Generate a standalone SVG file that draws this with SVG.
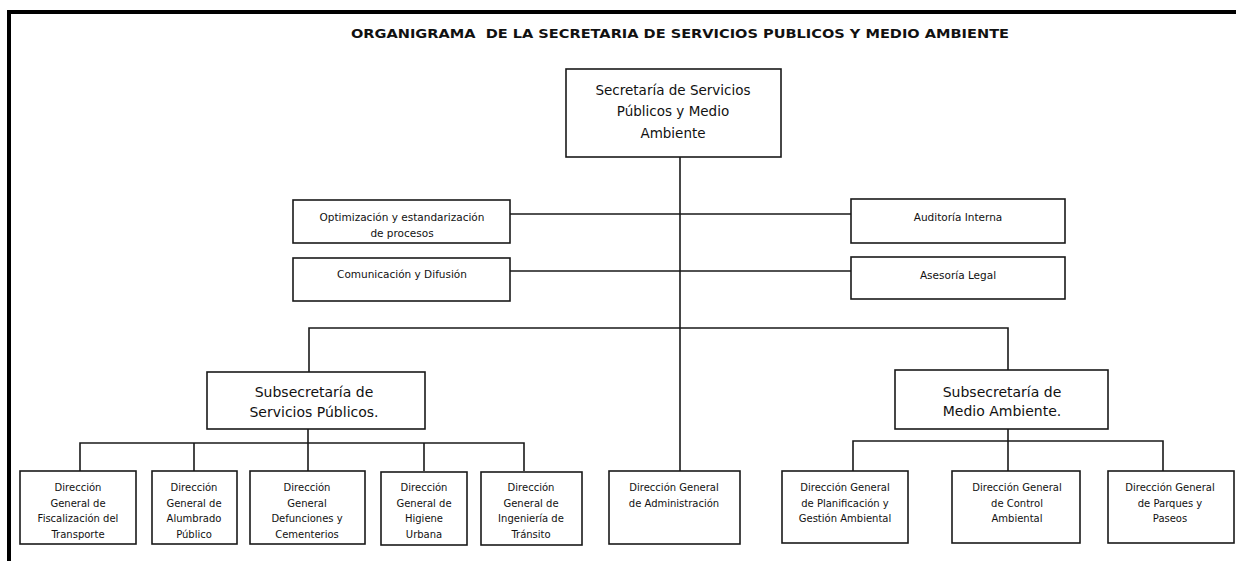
<svg xmlns="http://www.w3.org/2000/svg" width="1236" height="561" viewBox="0 0 1236 561">
<style>
.box{fill:#fff;stroke:#1a1a1a;stroke-width:1.6}
.ln{fill:none;stroke:#1a1a1a;stroke-width:1.6}
text{font-family:"DejaVu Sans","Liberation Sans",sans-serif;fill:#111;text-anchor:middle}
.t{font-size:10px}
.s{font-size:10.5px}
.big{font-size:13.5px}
.sub{font-size:14px}
.title{font-size:13px;font-weight:bold;white-space:pre}
</style>
<rect width="1236" height="561" fill="#fff"/>
<path d="M9 561V12H1236" fill="none" stroke="#000" stroke-width="4"/>
<text class="title" x="680" y="38" textLength="658" lengthAdjust="spacingAndGlyphs" xml:space="preserve">ORGANIGRAMA  DE LA SECRETARIA DE SERVICIOS PUBLICOS Y MEDIO AMBIENTE</text>
<g id="connectors">
<path class="ln" d="M680 157V471"/>
<path class="ln" d="M510 214H851M510 271H851"/>
<path class="ln" d="M309 372V328H1008V371"/>
<path class="ln" d="M308 429V443M80 471V443H524V471M194 443V471M424 443V471M308 443V471"/>
<path class="ln" d="M1008 429V441M853 471V441H1163V471M1008 441V471"/>
</g>
<g id="secretaria">
<rect class="box" x="566" y="69" width="215" height="88"/>
<text class="big" x="673" y="95">Secretaría de Servicios</text>
<text class="big" x="673" y="116">Públicos y Medio</text>
<text class="big" x="673" y="138">Ambiente</text>
</g>
<g id="optimizacion">
<rect class="box" x="293" y="200" width="217" height="43"/>
<text class="s" x="402" y="221">Optimización y estandarización</text>
<text class="s" x="402" y="237">de procesos</text>
</g>
<g id="comunicacion">
<rect class="box" x="293" y="258" width="217" height="43"/>
<text class="s" x="402" y="278">Comunicación y Difusión</text>
</g>
<g id="auditoria">
<rect class="box" x="851" y="199" width="214" height="44"/>
<text class="s" x="958" y="221">Auditoría Interna</text>
</g>
<g id="asesoria">
<rect class="box" x="851" y="257" width="214" height="42"/>
<text class="s" x="958" y="279">Asesoría Legal</text>
</g>
<g id="subsec-sp">
<rect class="box" x="207" y="372" width="218" height="57"/>
<text class="sub" x="314" y="397">Subsecretaría de</text>
<text class="sub" x="314" y="417">Servicios Públicos.</text>
</g>
<g id="subsec-ma">
<rect class="box" x="895" y="370" width="213" height="59"/>
<text class="sub" x="1002" y="397">Subsecretaría de</text>
<text class="sub" x="1002" y="416">Medio Ambiente.</text>
</g>
<g id="dg-fiscalizacion">
<rect class="box" x="20" y="471" width="116" height="73"/>
<text class="t" x="78" y="491">Dirección</text>
<text class="t" x="78" y="507">General de</text>
<text class="t" x="78" y="522">Fiscalización del</text>
<text class="t" x="78" y="538">Transporte</text>
</g>
<g id="dg-alumbrado">
<rect class="box" x="152" y="471" width="85" height="73"/>
<text class="t" x="194" y="491">Dirección</text>
<text class="t" x="194" y="507">General de</text>
<text class="t" x="194" y="522">Alumbrado</text>
<text class="t" x="194" y="538">Público</text>
</g>
<g id="dg-defunciones">
<rect class="box" x="250" y="471" width="115" height="73"/>
<text class="t" x="307" y="491">Dirección</text>
<text class="t" x="307" y="507">General</text>
<text class="t" x="307" y="522">Defunciones y</text>
<text class="t" x="307" y="538">Cementerios</text>
</g>
<g id="dg-higiene">
<rect class="box" x="381" y="472" width="86" height="73"/>
<text class="t" x="424" y="491">Dirección</text>
<text class="t" x="424" y="507">General de</text>
<text class="t" x="424" y="522">Higiene</text>
<text class="t" x="424" y="538">Urbana</text>
</g>
<g id="dg-ingenieria">
<rect class="box" x="481" y="472" width="101" height="73"/>
<text class="t" x="531" y="491">Dirección</text>
<text class="t" x="531" y="507">General de</text>
<text class="t" x="531" y="522">Ingeniería de</text>
<text class="t" x="531" y="538">Tránsito</text>
</g>
<g id="dg-administracion">
<rect class="box" x="609" y="471" width="131" height="73"/>
<text class="t" x="674" y="491">Dirección General</text>
<text class="t" x="674" y="507">de Administración</text>
</g>
<g id="dg-planificacion">
<rect class="box" x="782" y="471" width="126" height="72"/>
<text class="t" x="845" y="491">Dirección General</text>
<text class="t" x="845" y="507">de Planificación y</text>
<text class="t" x="845" y="522">Gestión Ambiental</text>
</g>
<g id="dg-control">
<rect class="box" x="952" y="471" width="128" height="72"/>
<text class="t" x="1017" y="491">Dirección General</text>
<text class="t" x="1017" y="507">de Control</text>
<text class="t" x="1017" y="522">Ambiental</text>
</g>
<g id="dg-parques">
<rect class="box" x="1108" y="471" width="126" height="72"/>
<text class="t" x="1170" y="491">Dirección General</text>
<text class="t" x="1170" y="507">de Parques y</text>
<text class="t" x="1170" y="522">Paseos</text>
</g>
</svg>
